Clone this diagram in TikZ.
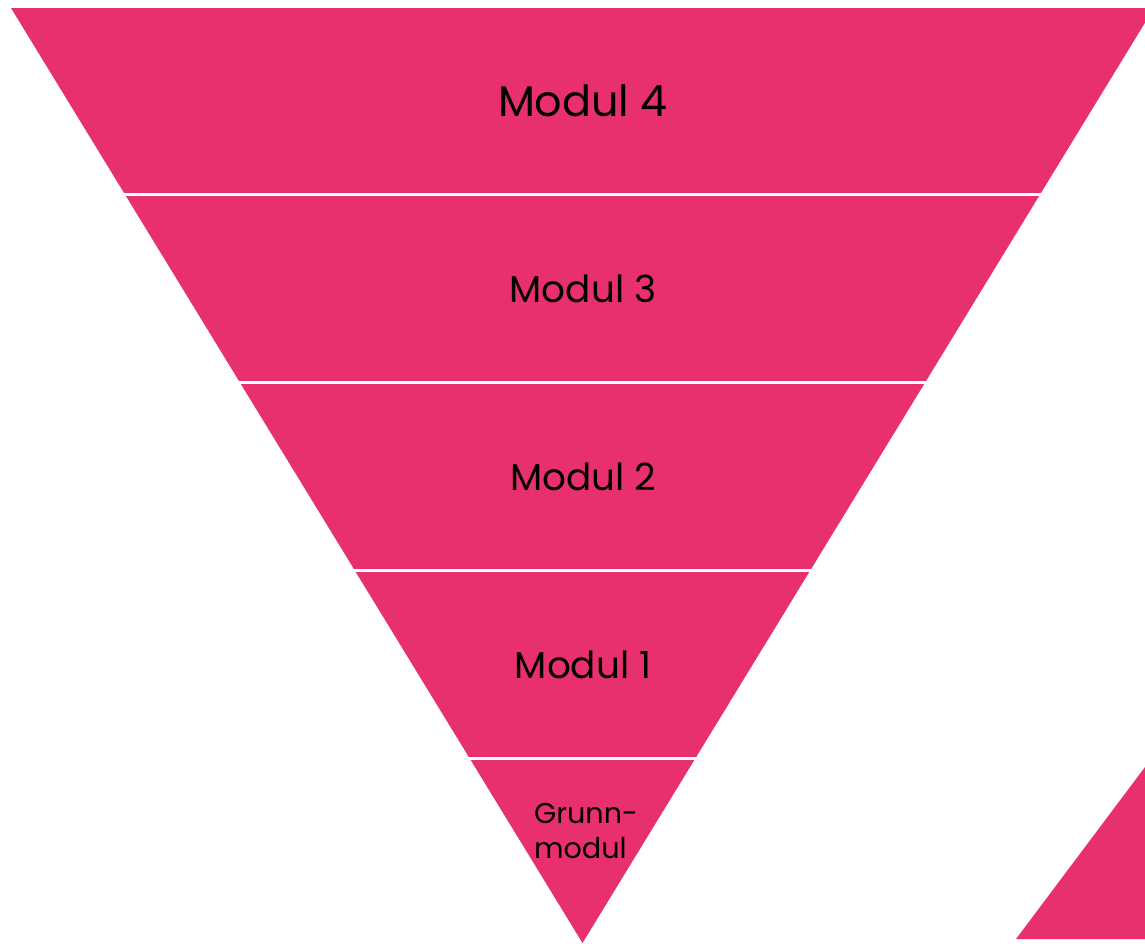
\documentclass[tikz,border=0pt]{standalone}
\usepackage{fontspec}
\setmainfont{Poppins}
\usepackage{tikz}
\usetikzlibrary{positioning}
\definecolor{funnelpink}{HTML}{E8306F}

\begin{document}
\begin{tikzpicture}[x=.75pt,y=-.75pt,
	band/.style={fill=funnelpink,draw=none},
	gap/.style={white,line width=2.4pt},
	bandlabel/.style={inner sep=0pt,text=black,align=center}]
	\useasboundingbox (0,0) rectangle (1145,943);
	\begin{scope}
		\clip (0,0) rectangle (1145,943);
		\fill[band] (11,8) -- (1154,8) -- (582.5,943) -- cycle;
		\foreach \y in {194.5,382.5,570.5,758.5} \draw[gap] (0,\y) -- (1145,\y);
		\fill[band] (1145,767) -- (1145,939) -- (1016,939) -- cycle;
	\end{scope}
	\node[bandlabel,font=\fontsize{32.2}{38}\selectfont] (modfour) at (583,101) {Modul 4};
	\node[bandlabel,font=\fontsize{28}{33}\selectfont] (modthree) at (583,289) {Modul 3};
	\node[bandlabel,font=\fontsize{28}{33}\selectfont] (modtwo) at (583,477) {Modul 2};
	\node[bandlabel,font=\fontsize{28}{33}\selectfont] (modone) at (583,665) {Modul 1};
	\node[bandlabel,align=left,font=\fontsize{21.5}{26}\selectfont] (grunn) at (586,831) {Grunn-\\modul};
\end{tikzpicture}
\end{document}
